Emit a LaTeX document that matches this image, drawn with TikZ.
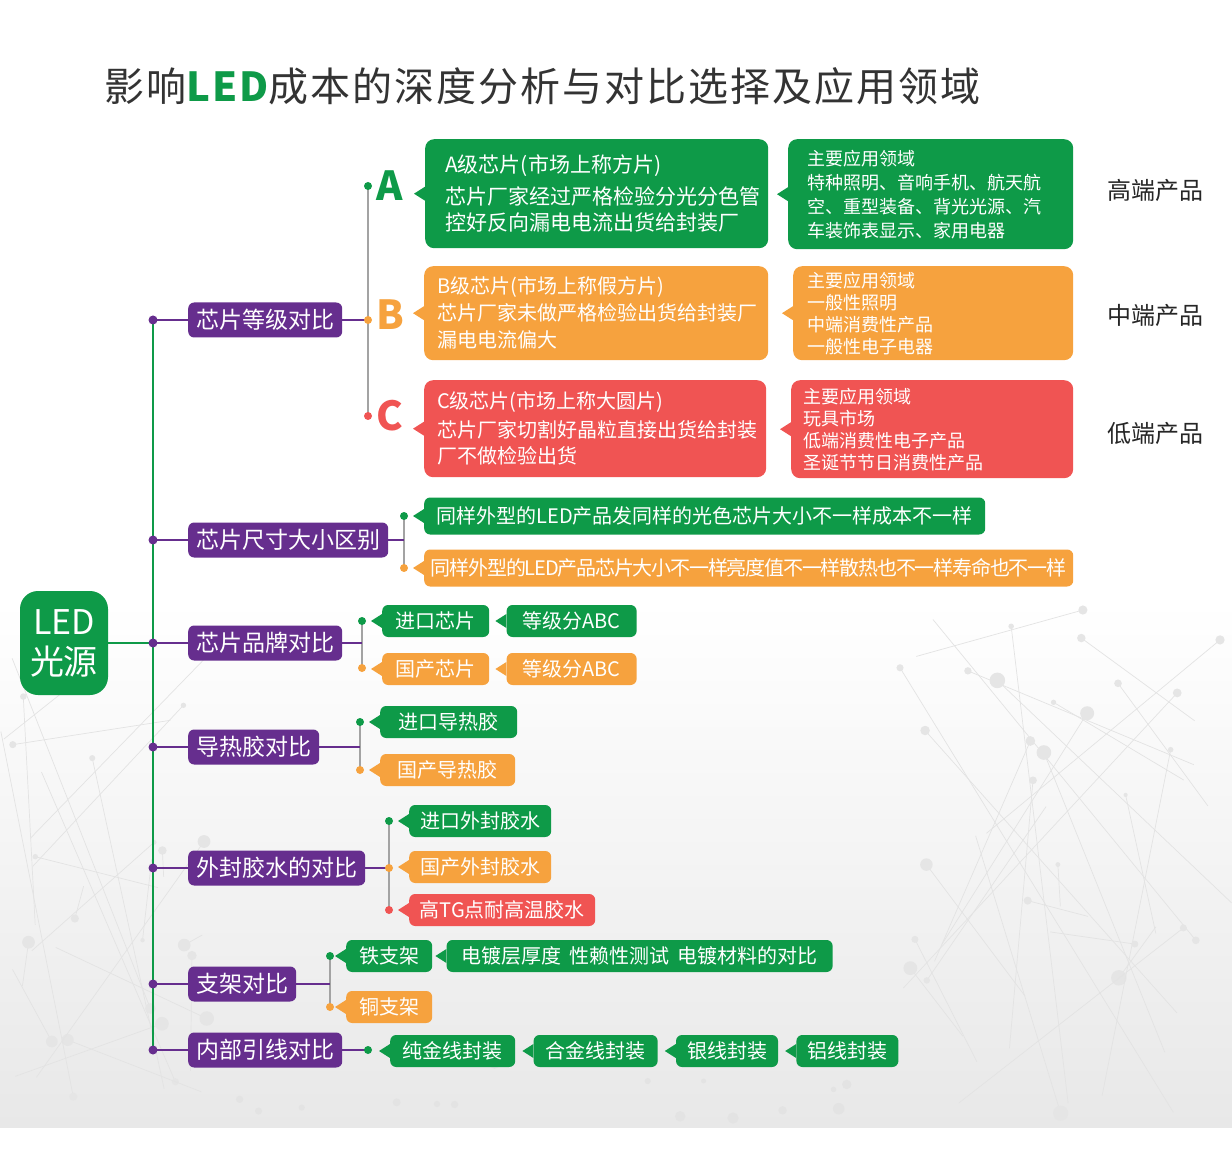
\documentclass[tikz,border=0pt]{standalone}
\usepackage{fontspec}
\setmainfont{Noto Sans CJK SC}
\usetikzlibrary{positioning}

\definecolor{ledgreen}{HTML}{0E9A48}
\definecolor{ledorange}{HTML}{F6A23E}
\definecolor{ledred}{HTML}{F05453}
\definecolor{ledpurple}{HTML}{662E8E}
\definecolor{linegray}{HTML}{A3A3A3}
\definecolor{titlegray}{HTML}{333333}

\pgfdeclarelayer{bg}
\pgfsetlayers{bg,main}

% 气泡的小三角
\newcommand\zhtip[2]{\fill[#2] ([yshift=7pt]#1.west) -- ([xshift=-11pt]#1.west) -- ([yshift=-7pt]#1.west) -- cycle;}

\tikzset{
  catbox/.style={fill=ledpurple, text=white, rounded corners=6pt, font=\fontsize{23}{27}\selectfont, inner xsep=8pt, minimum height=35pt, anchor=west},
  pill/.style={fill=#1, text=white, rounded corners=6pt, font=\fontsize{20}{24}\selectfont, minimum height=32pt, anchor=west},
  card/.style={fill=#1, text=white, rounded corners=9pt, align=left, anchor=north west},
  bead/.style={circle, fill=#1, minimum size=8pt},
  trunk/.style={ledgreen, line width=2.5pt},
  plink/.style={ledpurple, line width=2.5pt},
  glink/.style={linegray, line width=2pt},
  grade/.style={font=\fontsize{40}{44}\selectfont\bfseries, text=#1},
  level/.style={font=\fontsize{24}{28}\selectfont, text=black!85},
  net/.style={gray!22, line width=0.7pt},
}

\begin{document}
\begin{tikzpicture}[x=1pt, y=-1pt, every node/.style={inner sep=0pt}]
  \useasboundingbox (0,0) rectangle (1232,1155);

  % ==================== 标题 ====================
  \node[anchor=base west, text=titlegray, font=\fontsize{40}{48}\selectfont\addfontfeature{LetterSpace=5}] (title) at (104,102)
    {影响{\bfseries\color{ledgreen}LED}成本的深度分析与对比选择及应用领域};

  % ==================== 根节点与主干 ====================
  \node[fill=ledgreen, rounded corners=18pt, text=white, minimum width=88pt, minimum height=104pt,
        align=center, font=\fontsize{34}{40}\selectfont] (led) at (64,643) {LED\\光源};

  \foreach \n/\y in {1/320, 2/540, 3/643, 4/747, 5/868, 6/984, 7/1050}
    \node[bead=ledpurple, minimum size=9pt] (t\n) at (153,\y) {};

  \node[catbox] (c1) at (188,320) {芯片等级对比};
  \node[catbox] (c2) at (188,540) {芯片尺寸大小区别};
  \node[catbox] (c3) at (188,643) {芯片品牌对比};
  \node[catbox] (c4) at (188,747) {导热胶对比};
  \node[catbox] (c5) at (188,868) {外封胶水的对比};
  \node[catbox] (c6) at (188,984) {支架对比};
  \node[catbox] (c7) at (188,1050) {内部引线对比};

  % ==================== 芯片等级 A / B / C ====================
  \node[bead=ledgreen]  (gA) at (368,186) {};
  \node[bead=ledorange] (gB) at (368,320) {};
  \node[bead=ledred]    (gC) at (368,416) {};
  \node[grade=ledgreen]  (la) at (390,186) {A};
  \node[grade=ledorange] (lb) at (390,315) {B};
  \node[grade=ledred]    (lc) at (390,416) {C};

  \node[card=ledgreen, minimum width=343pt, minimum height=109pt, text width=303pt,
        font=\fontsize{21}{26}\selectfont] (ca) at (425,139)
    {A级芯片(市场上称方片)\\[6pt]芯片厂家经过严格检验分光分色管\\控好反向漏电电流出货给封装厂};
  \node[card=ledgreen, minimum width=285pt, minimum height=110pt, text width=247pt,
        font=\fontsize{18}{24}\selectfont] (aa) at (788,139)
    {主要应用领域\\特种照明、音响手机、航天航\\空、重型装备、背光光源、汽\\车装饰表显示、家用电器};

  \node[card=ledorange, minimum width=344pt, minimum height=94pt, text width=318pt,
        font=\fontsize{20}{27}\selectfont] (cb) at (424,266)
    {B级芯片(市场上称假方片)\\芯片厂家未做严格检验出货给封装厂\\漏电电流偏大};
  \node[card=ledorange, minimum width=280pt, minimum height=94pt, text width=252pt,
        font=\fontsize{18}{22}\selectfont] (ab) at (793,266)
    {主要应用领域\\一般性照明\\中端消费性产品\\一般性电子电器};

  \node[card=ledred, minimum width=342pt, minimum height=97pt, text width=316pt,
        font=\fontsize{20}{26}\selectfont] (cc) at (424,380)
    {C级芯片(市场上称大圆片)\\[3pt]芯片厂家切割好晶粒直接出货给封装\\厂不做检验出货};
  \node[card=ledred, minimum width=282pt, minimum height=98pt, text width=258pt,
        font=\fontsize{18}{22}\selectfont] (ac) at (791,380)
    {主要应用领域\\玩具市场\\低端消费性电子产品\\圣诞节节日消费性产品};

  \node[level] (hi)  at (1155,190) {高端产品};
  \node[level] (mid) at (1155,315) {中端产品};
  \node[level] (lo)  at (1155,433) {低端产品};

  % ==================== 芯片尺寸 ====================
  \node[bead=ledgreen]  (sA) at (404,516) {};
  \node[bead=ledorange] (sB) at (404,568) {};
  \node[pill=ledgreen, minimum width=561pt, minimum height=37pt] (s1) at (424,516)
    {同样外型的LED产品发同样的光色芯片大小不一样成本不一样};
  \node[pill=ledorange, minimum width=649pt, minimum height=37pt,
        font=\fontsize{20}{24}\selectfont\addfontfeature{LetterSpace=-6}] (s2) at (424,568)
    {同样外型的LED产品芯片大小不一样亮度值不一样散热也不一样寿命也不一样};

  % ==================== 芯片品牌 ====================
  \node[bead=ledgreen]  (bA) at (362,621) {};
  \node[bead=ledorange] (bB) at (362,668) {};
  \node[pill=ledgreen, minimum width=107pt] (b1) at (382,621) {进口芯片};
  \node[pill=ledgreen, minimum width=130pt, right=17pt of b1] (b2) {等级分ABC};
  \node[pill=ledorange, minimum width=107pt] (b3) at (382,669) {国产芯片};
  \node[pill=ledorange, minimum width=130pt, right=17pt of b3] (b4) {等级分ABC};

  % ==================== 导热胶 ====================
  \node[bead=ledgreen]  (hA) at (360,722) {};
  \node[bead=ledorange] (hB) at (360,770) {};
  \node[pill=ledgreen, minimum width=137pt]  (h1) at (380,722) {进口导热胶};
  \node[pill=ledorange, minimum width=135pt] (h2) at (380,770) {国产导热胶};

  % ==================== 外封胶水 ====================
  \node[bead=ledgreen]  (eA) at (389,821) {};
  \node[bead=ledorange] (eB) at (389,868) {};
  \node[bead=ledred]    (eC) at (389,910) {};
  \node[pill=ledgreen, minimum width=142pt]  (e1) at (409,821) {进口外封胶水};
  \node[pill=ledorange, minimum width=142pt] (e2) at (409,867) {国产外封胶水};
  \node[pill=ledred, minimum width=186pt]    (e3) at (409,910) {高TG点耐高温胶水};

  % ==================== 支架 ====================
  \node[bead=ledgreen]  (kA) at (330,956) {};
  \node[bead=ledorange] (kB) at (330,1007) {};
  \node[pill=ledgreen, minimum width=86pt] (k1) at (346,956) {铁支架};
  \node[pill=ledgreen, minimum width=386pt, right=14pt of k1] (k2)
    {电镀层厚度\hspace{8pt}性赖性测试\hspace{8pt}电镀材料的对比};
  \node[pill=ledorange, minimum width=86pt] (k3) at (346,1007) {铜支架};

  % ==================== 内部引线 ====================
  \node[bead=ledgreen] (wA) at (368,1050) {};
  \node[pill=ledgreen, minimum width=125pt] (w1) at (390,1051) {纯金线封装};
  \node[pill=ledgreen, minimum width=124pt, right=18pt of w1] (w2) {合金线封装};
  \node[pill=ledgreen, minimum width=102pt, right=18pt of w2] (w3) {银线封装};
  \node[pill=ledgreen, minimum width=102pt, right=18pt of w3] (w4) {铝线封装};

  % 气泡尖角
  \foreach \n/\c in {ca/ledgreen, aa/ledgreen, cb/ledorange, ab/ledorange, cc/ledred, ac/ledred,
                     s1/ledgreen, s2/ledorange, b1/ledgreen, b2/ledgreen, b3/ledorange, b4/ledorange,
                     h1/ledgreen, h2/ledorange, e1/ledgreen, e2/ledorange, e3/ledred,
                     k1/ledgreen, k2/ledgreen, k3/ledorange, w1/ledgreen, w2/ledgreen, w3/ledgreen, w4/ledgreen}
    \zhtip{\n}{\c};

  % ==================== 底纹与连线 (放在底层) ====================
  \begin{pgfonlayer}{bg}
    \shade[top color=white, bottom color=black!9] (0,600) rectangle (1232,1127);
    % 淡灰色网状底纹
    \pgfmathsetseed{7}
    \foreach \i in {1,...,22} {
      \pgfmathsetmacro\xa{rnd*210}      \pgfmathsetmacro\ya{640+rnd*480}
      \pgfmathsetmacro\xb{rnd*210}      \pgfmathsetmacro\yb{640+rnd*480}
      \draw[net] (\xa,\ya) -- (\xb,\yb);
      \fill[gray!20] (\xa,\ya) circle ({2+rnd*6});
    }
    \foreach \i in {1,...,28} {
      \pgfmathsetmacro\xa{900+rnd*332}  \pgfmathsetmacro\ya{600+rnd*520}
      \pgfmathsetmacro\xb{900+rnd*332}  \pgfmathsetmacro\yb{600+rnd*520}
      \draw[net] (\xa,\ya) -- (\xb,\yb);
      \fill[gray!20] (\xa,\ya) circle ({2+rnd*6});
    }
    \foreach \i in {1,...,16} {
      \pgfmathsetmacro\xa{200+rnd*700}  \pgfmathsetmacro\ya{1060+rnd*60}
      \fill[gray!22] (\xa,\ya) circle ({2+rnd*4});
    }
    \draw[trunk] (t1.center) -- (t7.center);
    \draw[trunk] (led.east) -- (t3.center);
    \foreach \n in {1,...,7}
      \draw[plink] (t\n.center) -- (c\n.west);
    \draw[glink] (gA.center) -- (gC.center);
    \draw[plink] (c1.east) -- (gB.center);
    \draw[glink] (sA.center) -- (sB.center);
    \draw[plink] (c2.east) -- (c2.east -| sA);
    \draw[glink] (bA.center) -- (bB.center);
    \draw[plink] (c3.east) -- (c3.east -| bA);
    \draw[glink] (hA.center) -- (hB.center);
    \draw[plink] (c4.east) -- (c4.east -| hA);
    \draw[glink] (eA.center) -- (eC.center);
    \draw[plink] (c5.east) -- (eB.center);
    \draw[glink] (kA.center) -- (kB.center);
    \draw[plink] (c6.east) -- (c6.east -| kA);
    \draw[plink] (c7.east) -- (wA.center);
  \end{pgfonlayer}
\end{tikzpicture}
\end{document}
